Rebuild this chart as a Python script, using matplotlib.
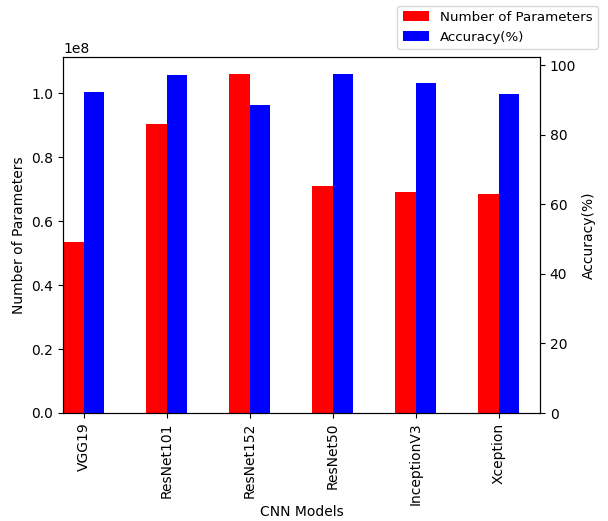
import matplotlib
matplotlib.use("Agg")
import matplotlib.pyplot as plt
import numpy as np

models = ["VGG19", "ResNet101", "ResNet152", "ResNet50", "InceptionV3", "Xception"]
num_params = [0.535e8, 0.904e8, 1.060e8, 0.710e8, 0.692e8, 0.684e8]
accuracy = [92.3, 97.3, 88.7, 97.5, 94.9, 91.7]

fig = plt.figure(figsize=(6.08, 5.21), dpi=100)
W, H = 608, 521
ax = fig.add_axes([63 / W, 1 - 413 / H, (540 - 63) / W, (413 - 57) / H])
ax2 = ax.twinx()

x = np.arange(len(models))
w = 0.25
b1 = ax.bar(x - w / 2, num_params, width=w, color="red", label="Number of Parameters")
b2 = ax2.bar(x + w / 2, accuracy, width=w, color="blue", label="Accuracy(%)")

ax.set_xlim(-0.25, 5.5)
ax.set_ylim(0, max(num_params) * 1.05)
ax2.set_ylim(0, max(accuracy) * 1.05)
ax.set_xticks(x)
ax.set_xticklabels(models, rotation=90)
ax.set_xlabel("CNN Models", labelpad=0)
ax.xaxis.set_label_coords(0.5, -(512 - 413) / (413 - 57), transform=ax.transAxes)
ax.xaxis.label.set_va("center")
ax.set_ylabel("Number of Parameters")
ax2.set_ylabel("Accuracy(%)")

fig.legend(handles=[b1, b2], loc="upper right", borderaxespad=0,
           fontsize=9.6, bbox_to_anchor=(598 / W, 1 - 5.5 / H))

fig.savefig("out.png", dpi=100)
